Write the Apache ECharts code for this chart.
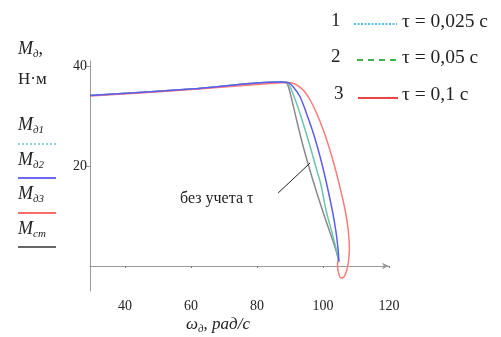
<!DOCTYPE html>
<html>
<head>
<meta charset="utf-8">
<style>
  html, body { margin: 0; padding: 0; background: #fff; }
  #chart { width: 501px; height: 337px; }
</style>
<script src="https://cdn.jsdelivr.net/npm/echarts@6/dist/echarts.min.js"></script>
</head>
<body>
<div id="chart"></div>
<script>
// ---- data: [omega, M] ----
const staticCurve = [[29.4, 34.1], [60, 35.4], [88.5, 36.8], [89.5, 35.9], [92, 29.2], [94, 23.9],
  [96.6, 17.9], [99.8, 11.2], [103.9, 3.2], [104.8, 0.9]]
const tau1Curve = [[29.4, 34.1], [60, 35.4], [87, 36.8], [89, 36.7], [90, 35.9], [92, 32.5],
  [94, 28.5], [96.1, 23.9], [98.1, 19.2], [99.4, 16.2], [100.9, 11.2], [102.8, 6.5],
  [104.2, 2.8], [104.8, 0.9]]
const tau2Curve = [[29.4, 34.1], [60, 35.4], [87, 36.8], [89.3, 36.7], [90.5, 36.2], [93, 33.9],
  [95, 30.5], [97.1, 26.5], [99.1, 21.9], [100.6, 17.9], [102.8, 11.2], [103.9, 7],
  [104.6, 3.2], [104.8, 0.9]]
const tau3Curve = [[29.4, 34.0], [60, 35.3], [86, 36.6], [89.4, 36.7], [91.5, 36.4], [94, 35.2],
  [96.1, 33.2], [98.1, 30.5], [100.1, 27.2], [102.1, 23.2], [104.1, 18.5], [105.7, 14.2],
  [106.9, 10.5], [107.7, 6.8], [108, 3.5], [107.7, 0.8], [107.1, -1.1], [106.3, -2.2],
  [105.4, -2.4], [104.7, -1.3], [104.4, 0.2], [104.6, 1.2]]
const leaderLine = [[86.4, 14.6], [96.1, 20.6]]
const xTicks = [40, 60, 80, 100, 120]
const yTicks = [20, 40]

const serif = '"Liberation Serif", "DejaVu Serif", serif'
const axisGray = '#9a9a9a'

const chart = echarts.init(document.getElementById('chart'))

function curve(name, data, color, z) {
  return {
    name: name,
    type: 'line',
    data: data,
    showSymbol: false,
    smooth: 0.3,
    z: z,
    lineStyle: { color: color, width: 1.5 },
  }
}

// italic label with a subscript, e.g. M + д1
function subLabel(left, top, main, sub, tail) {
  return {
    type: 'text', left: left, top: top,
    style: {
      text: '{m|' + main + '}{s|' + sub + '}' + (tail ? '{t|' + tail + '}' : ''),
      rich: {
        m: { fontFamily: serif, fontStyle: 'italic', fontSize: 18, fill: '#222', lineHeight: 18, verticalAlign: 'bottom' },
        s: { fontFamily: serif, fontStyle: 'italic', fontSize: 11, fill: '#222', lineHeight: 18, verticalAlign: 'bottom', padding: [0, 0, -2, 0] },
        t: { fontFamily: serif, fontSize: 18, fill: '#222', lineHeight: 18, verticalAlign: 'bottom' },
      },
    },
  }
}

function sampleLine(x1, x2, y, color, dash) {
  return {
    type: 'line',
    shape: { x1: x1, y1: y, x2: x2, y2: y },
    style: { stroke: color, lineWidth: 2, lineDash: dash || null },
  }
}

function plainText(left, top, text, size) {
  return { type: 'text', left: left, top: top, style: { text: text, fontFamily: serif, fontSize: size, fill: '#222' } }
}

const option = {
  animation: false,
  backgroundColor: '#fff',
  grid: { left: 90, right: 112, top: 61, height: 230 },
  xAxis: {
    type: 'value',
    min: 29.4,
    max: 120,
    axisLine: { onZero: true, lineStyle: { color: axisGray, width: 1 }, symbol: ['none', 'arrow'], symbolSize: [5, 7] },
    axisTick: { show: true, customValues: xTicks, length: 2, lineStyle: { color: '#777' } },
    axisLabel: { customValues: xTicks, fontFamily: serif, fontSize: 14, color: '#222', margin: 8 },
    splitLine: { show: false },
  },
  yAxis: {
    type: 'value',
    min: -5,
    max: 41,
    axisLine: { show: true, lineStyle: { color: axisGray, width: 1 } },
    axisTick: { show: true, customValues: yTicks, length: 4, lineStyle: { color: axisGray } },
    axisLabel: { customValues: yTicks, fontFamily: serif, fontSize: 14, color: '#222', margin: 3 },
    splitLine: { show: false },
  },
  series: [
    Object.assign(curve('Mст', staticCurve, '#8a8a8a', 2), {
      markLine: {
        silent: true,
        symbol: ['none', 'none'],
        label: { show: false },
        lineStyle: { color: '#222', width: 1, type: 'solid' },
        data: [[{ coord: leaderLine[0] }, { coord: leaderLine[1] }]],
      },
    }),
    curve('Mд1', tau1Curve, '#6cc3b0', 3),
    curve('Mд3', tau3Curve, '#ff7a7a', 3),
    curve('Mд2', tau2Curve, '#5c5cf0', 4),
  ],
  graphic: [
    // left-hand axis title and line key
    subLabel(18, 40, 'M', 'д', ','),
    plainText(18, 71, 'Н·м', 17),
    subLabel(18, 116, 'M', 'д1'),
    sampleLine(18, 56, 144, '#8ad6d6', [2, 2]),
    subLabel(18, 151, 'M', 'д2'),
    sampleLine(18, 56, 178, '#6a6af5'),
    subLabel(18, 185, 'M', 'д3'),
    sampleLine(18, 56, 213, '#ff6a6a'),
    subLabel(18, 220, 'M', 'ст'),
    sampleLine(18, 56, 247, '#666'),
    // top-right tau key
    plainText(331, 12, '1', 19),
    sampleLine(354, 397, 24, '#55bdf0', [2, 1.5]),
    plainText(402, 12, 'τ = 0,025 с', 19.5),
    plainText(331, 48, '2', 19),
    sampleLine(357, 396, 60, '#3cb44b', [6, 5]),
    plainText(402, 48, 'τ = 0,05 с', 19.5),
    plainText(334, 85, '3', 19),
    sampleLine(358, 398, 98, '#e84545'),
    plainText(402, 85, 'τ = 0,1 с', 19.5),
    // annotation and x-axis title
    plainText(180, 191, 'без учета τ', 16),
    {
      type: 'text', left: 186, top: 316,
      style: {
        text: '{m|ω}{s|д}{m|, рад/с}',
        rich: {
          m: { fontFamily: serif, fontStyle: 'italic', fontSize: 17, fill: '#222', lineHeight: 18, verticalAlign: 'bottom' },
          s: { fontFamily: serif, fontStyle: 'italic', fontSize: 11, fill: '#222', lineHeight: 18, verticalAlign: 'bottom', padding: [0, 0, -2, 0] },
        },
      },
    },
  ],
}

chart.setOption(option)
</script>
</body>
</html>
